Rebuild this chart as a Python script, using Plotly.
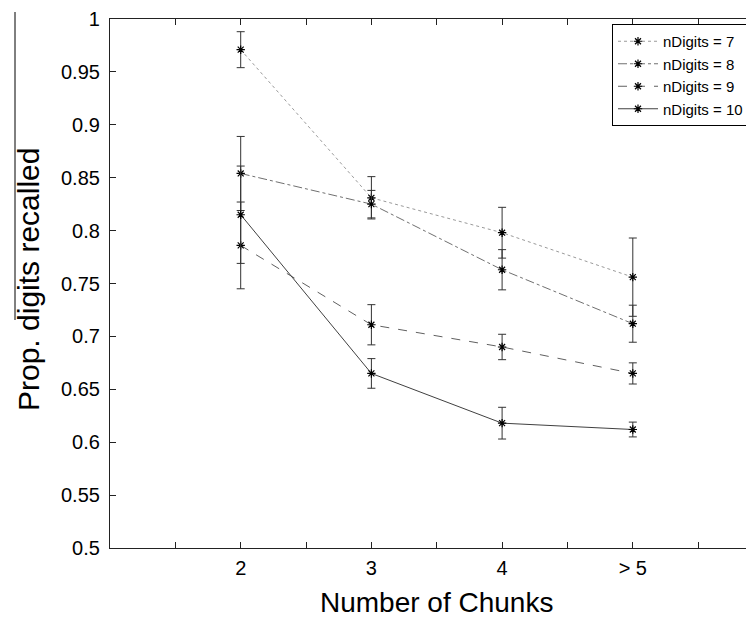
import plotly.graph_objects as go

# ---- data ----
chunks = [2, 3, 4, 5]
chunk_labels = ["2", "3", "4", "> 5"]
series_names = ["nDigits = 7", "nDigits = 8", "nDigits = 9", "nDigits = 10"]
n7 = [0.971, 0.831, 0.798, 0.756]
n7_err = [0.017, 0.020, 0.024, 0.037]
n8 = [0.854, 0.825, 0.763, 0.712]
n8_err = [0.035, 0.013, 0.019, 0.0175]
n9 = [0.786, 0.711, 0.690, 0.665]
n9_err = [0.041, 0.019, 0.012, 0.010]
n10 = [0.815, 0.665, 0.618, 0.612]
n10_err = [0.046, 0.014, 0.015, 0.007]
y_ticks = [0.5, 0.55, 0.6, 0.65, 0.7, 0.75, 0.8, 0.85, 0.9, 0.95, 1.0]
y_tick_labels = ["0.5", "0.55", "0.6", "0.65", "0.7", "0.75", "0.8", "0.85", "0.9", "0.95", "1"]
x_ticks = [1.5, 2, 2.5, 3, 3.5, 4, 4.5, 5, 5.5]

FONT = "Liberation Sans, Arial, Helvetica, sans-serif"

styles = [
    dict(dash="dot", color="#9a9a9a", width=1),
    dict(dash="dashdot", color="#707070", width=1),
    dict(dash="dash", color="#606060", width=1),
    dict(dash="solid", color="#404040", width=1),
]
values = [n7, n8, n9, n10]
errors = [n7_err, n8_err, n9_err, n10_err]

fig = go.Figure()
for name, vals, errs, st in zip(series_names, values, errors, styles):
    fig.add_trace(go.Scatter(
        x=chunks, y=vals, name=name, mode="lines+markers",
        line=st,
        marker=dict(symbol="asterisk-open", size=7, color="black",
                    line=dict(color="black", width=1.2)),
        error_y=dict(type="data", array=errs, visible=True,
                     color="#333333", thickness=1, width=4),
    ))

x_text = []
for v in x_ticks:
    if v in chunks:
        x_text.append(chunk_labels[chunks.index(v)])
    else:
        x_text.append("")

PW = 644  # plot-area width in px
PH = 529  # plot-area height in px

# page body has an 8px margin: figure is sized/offset to compensate
fig.update_layout(
    width=746, height=609,
    margin=dict(l=102, r=0, t=11, b=69, autoexpand=False),
    paper_bgcolor="white", plot_bgcolor="white",
    font=dict(family=FONT, color="black"),
    showlegend=True,
    legend=dict(
        x=(612 - 110) / PW, y=1 - (24 - 19) / PH,
        xanchor="left", yanchor="top",
        bordercolor="black", borderwidth=1, bgcolor="white",
        font=dict(family=FONT, size=15, color="black"),
        tracegroupgap=0, itemwidth=40,
    ),
    xaxis=dict(
        range=[1, 1 + PW / 130.7],
        tickvals=x_ticks, ticktext=x_text,
        ticks="inside", ticklen=6, tickcolor="#222", tickwidth=1,
        showline=True, linecolor="#222", linewidth=1.2,
        mirror="ticks", showgrid=False, zeroline=False,
        tickfont=dict(family=FONT, size=20, color="black"),
        ticklabelstandoff=2,
    ),
    yaxis=dict(
        range=[0.5, 1.0],
        tickvals=y_ticks, ticktext=y_tick_labels,
        ticks="inside", ticklen=6, tickcolor="#222", tickwidth=1,
        showline=True, linecolor="#222", linewidth=1.2,
        showgrid=False, zeroline=False,
        tickfont=dict(family=FONT, size=20, color="black"),
        ticklabelstandoff=5,
    ),
)

fig.add_annotation(
    text="Number of Chunks", x=3.5, xref="x",
    y=(548 - 602) / PH, yref="paper",
    xanchor="center", yanchor="middle", showarrow=False,
    font=dict(family=FONT, size=28, color="black"),
)
fig.add_annotation(
    text="Prop. digits recalled", textangle=-90,
    x=(28 - 110) / PW, xref="paper",
    y=1 - (280 - 19) / PH, yref="paper",
    xanchor="center", yanchor="middle", showarrow=False,
    font=dict(family=FONT, size=30, color="black"),
)

fig.add_shape(type="line", xref="paper", yref="paper",
              x0=(15 - 110) / PW, x1=(15 - 110) / PW,
              y0=1 + 7 / PH, y1=1 - 301 / PH,
              line=dict(color="black", width=1))

fig.write_html("out.html")
